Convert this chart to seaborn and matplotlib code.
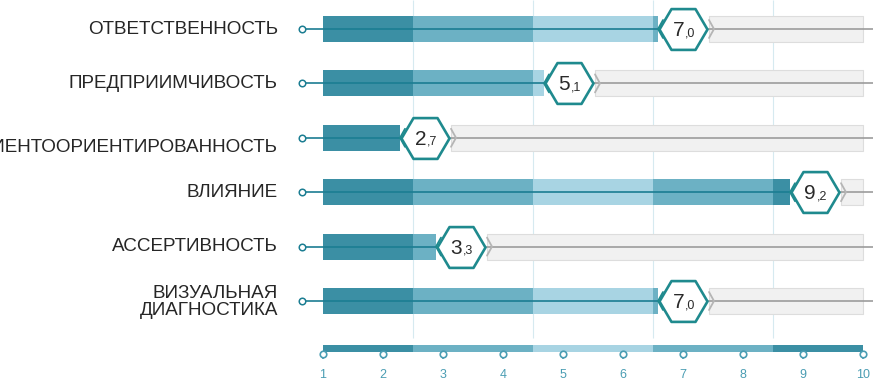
import numpy as np
import pandas as pd
import matplotlib
matplotlib.use("Agg")
import matplotlib.pyplot as plt
import seaborn as sns

# Competency profile: score on a 1..10 scale
competencies = [
    "ОТВЕТСТВЕННОСТЬ",
    "ПРЕДПРИИМЧИВОСТЬ",
    "КЛИЕНТООРИЕНТИРОВАННОСТЬ",
    "ВЛИЯНИЕ",
    "АССЕРТИВНОСТЬ",
    "ВИЗУАЛЬНАЯ\nДИАГНОСТИКА",
]
scores = [7.0, 5.1, 2.7, 9.2, 3.3, 7.0]
scale_ticks = list(range(1, 11))
band_edges = [1, 2.5, 4.5, 6.5, 8.5, 10]

DARK, MID, LIGHT = "#3b8fa4", "#6cb1c4", "#a8d4e3"
band_colors = [DARK, MID, LIGHT, MID, DARK]
LINE = "#1b7d92"
HEX_EDGE = "#1f8a8e"
GRID = "#d6eaf0"
TICK = "#4a9db3"

sns.set_theme(style="white")
plt.rcParams["font.family"] = ["Liberation Sans", "DejaVu Sans"]

W, H = 873, 381
fig = plt.figure(figsize=(W / 100, H / 100), dpi=100)
ax = fig.add_axes([0, 0, 1, 1])
PX = 60.0      # pixels per scale unit
X0 = 323       # pixel column of scale value 1
ax.set_xlim(1 - X0 / PX, 1 + (W - X0) / PX)
ax.set_ylim(H, 0)
ax.axis("off")


def du(p):
    """pixel distance -> scale units"""
    return p / PX


row_y = 29 + 54.4 * np.arange(len(competencies))
label_dy = [0, 0, 10, 0, 0, 1]
BAR_H = 26
HEX_HALF = 24      # half width of the value badge, px
GAP = 25           # distance from the score to the end of the fill, px

# zone separators
for e in band_edges[1:-1]:
    ax.vlines(e, 0, 338, color=GRID, lw=0.8, zorder=0)

for name, score, y, dy in zip(competencies, scores, row_y, label_dy):
    fill_end = score - du(GAP)
    rest_start = score + du(GAP + 1)
    # remaining (unreached) part of the scale
    ax.barh(y, 10 - rest_start, left=rest_start, height=BAR_H,
            color="#f1f1f1", edgecolor="#dddddd", lw=0.8, zorder=1)
    # reached part, coloured by zone
    for lo, hi, c in zip(band_edges[:-1], band_edges[1:], band_colors):
        hi2 = min(hi, fill_end)
        if hi2 > lo:
            ax.barh(y, hi2 - lo, left=lo, height=BAR_H, color=c,
                    lw=0, zorder=2)
    # track lines
    ax.plot([1 - du(21), fill_end], [y, y], color=LINE, lw=1.2, zorder=3,
            solid_capstyle="butt")
    ax.plot([score + du(HEX_HALF), 1 + (W - X0) / PX], [y, y],
            color="#9c9c9c", lw=1.2, zorder=3)
    # chevrons either side of the badge
    cx = fill_end
    ax.plot([cx + du(5), cx, cx + du(5)], [y - 9, y, y + 9],
            color=HEX_EDGE, lw=1.3, zorder=4, solid_joinstyle="miter")
    gx = score + du(HEX_HALF + 2)
    ax.plot([gx, gx + du(5), gx], [y - 9, y, y + 9],
            color="#b5b5b5", lw=1.3, zorder=4, solid_joinstyle="miter")
    # row label
    ax.text(1 - du(45), y + dy, name, ha="right", va="center",
            fontsize=13.6, color="#262626", linespacing=0.95, zorder=5)

rows = pd.DataFrame({"score": scores, "y": row_y})

# start points of the tracks
sns.scatterplot(data=rows.assign(x=1 - du(21)), x="x", y="y", ax=ax,
                marker="o", s=22, facecolor="white", edgecolor=LINE,
                linewidth=1.1, zorder=6, legend=False)

# hexagonal value badges
hexagon = [(-1, 0), (-0.5, 0.85), (0.5, 0.85), (1, 0), (0.5, -0.85),
           (-0.5, -0.85), (-1, 0)]
sns.scatterplot(data=rows, x="score", y="y", ax=ax, marker=hexagon,
                s=(HEX_HALF * 2 * 0.72) ** 2, facecolor="white",
                edgecolor=HEX_EDGE, linewidth=1.9, zorder=7, legend=False)

for score, y in zip(scores, row_y):
    whole, frac = f"{score:.1f}".split(".")
    ax.text(score + du(1), y + 7, whole, ha="right", va="baseline",
            fontsize=15, color="#2a2a2a", zorder=8)
    ax.text(score + du(1.5), y + 7, "," + frac, ha="left", va="baseline",
            fontsize=9, color="#2a2a2a", zorder=8)

# scale legend at the bottom
AXIS_Y = 348.5
for lo, hi, c in zip(band_edges[:-1], band_edges[1:], band_colors):
    ax.barh(AXIS_Y, hi - lo, left=lo, height=7, color=c, lw=0, zorder=2)
ticks = pd.DataFrame({"t": scale_ticks, "y": AXIS_Y + 5})
ax.vlines(scale_ticks, AXIS_Y + 5, AXIS_Y + 10, color=TICK, lw=1.2,
          zorder=3)
sns.scatterplot(data=ticks, x="t", y="y", ax=ax, marker="o", s=22,
                facecolor="white", edgecolor=TICK, linewidth=1.2,
                zorder=4, legend=False)
for t in scale_ticks:
    ax.text(t, 375, str(t), ha="center", va="center", fontsize=9,
            color=TICK)

fig.savefig("out.png", dpi=100, facecolor="white")
